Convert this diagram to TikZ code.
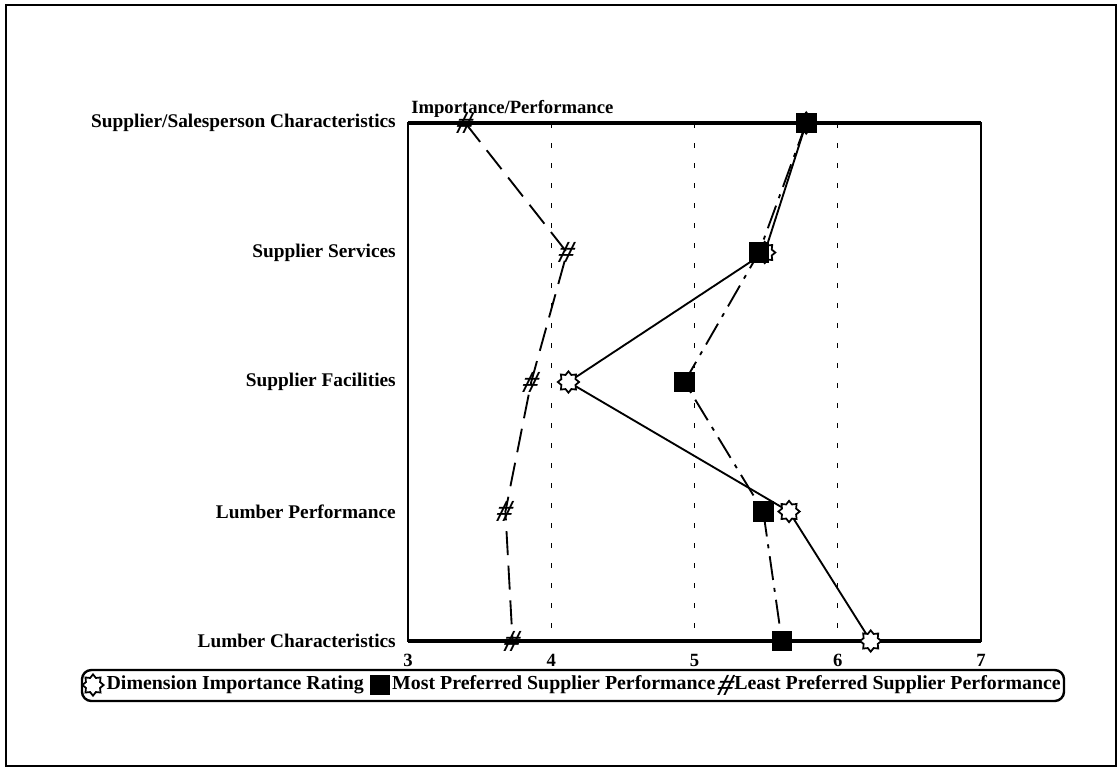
\documentclass[tikz,border=0pt]{standalone}
\usepackage{fontspec}
\setmainfont{Liberation Serif}
\usetikzlibrary{positioning,shapes.geometric}

\begin{document}
\begin{tikzpicture}[x=0.75pt,y=-0.75pt,
  rowlabel/.style={anchor=east,inner sep=0pt,font=\bfseries\fontsize{14.5}{16}\selectfont},
  ticklabel/.style={inner sep=0pt,font=\bfseries\fontsize{14}{16}\selectfont},
  legendtext/.style={inner sep=0pt,font=\bfseries\fontsize{14.9}{16}\selectfont},
  gridline/.style={line width=1.1pt,dash pattern=on 3.75pt off 11.25pt},
  impline/.style={line width=1.4pt},
  mostline/.style={line width=1.4pt,dash pattern=on 18pt off 6pt on 3pt off 6pt},
  leastline/.style={line width=1.4pt,dash pattern=on 18pt off 8pt},
  impmark/.style={star,star points=8,star point ratio=1.4,draw,fill=white,line width=1.3pt,minimum size=16pt,inner sep=0pt},
  mostmark/.style={rectangle,fill=black,minimum size=15.5pt,inner sep=0pt},
  leastmark/.style={inner sep=0pt,xslant=0.3,font=\bfseries\fontsize{23}{23}\selectfont},
]
\useasboundingbox (0,0) rectangle (1118,769);
\draw[line width=1.8pt] (6,5) rectangle (1116,766);

% plot frame and grid
\foreach \v in {4,5,6}
  \draw[gridline] ({408+(\v-3)*143.25},123) -- ({408+(\v-3)*143.25},641);
\draw[line width=1.6pt] (408,123) rectangle (981,641);
\draw[line width=2.4pt] (408,123) -- (981,123);
\draw[line width=2.4pt] (408,641) -- (981,641);
\foreach \v in {3,...,7}
  \node[ticklabel] (tick-\v) at ({408+(\v-3)*143.25},660) {\v};
\node[ticklabel,anchor=base west] (axis-title) at (411,113) {Importance/Performance};

% data: name/row/label/importance/most/least
\foreach \name/\row/\lab/\imp/\most/\least in {
    ssc/0/Supplier\slash Salesperson Characteristics/5.78/5.78/3.40,
    ss/1/Supplier Services/5.49/5.45/4.11,
    sf/2/Supplier Facilities/4.12/4.93/3.86,
    lp/3/Lumber Performance/5.66/5.48/3.68,
    lc/4/Lumber Characteristics/6.23/5.61/3.73}{
  \node[rowlabel] (row-\name) at (396,{123+\row*129.5}) {\lab};
  \coordinate (imp-\name) at ({408+(\imp-3)*143.25},{123+\row*129.5});
  \coordinate (most-\name) at ({408+(\most-3)*143.25},{123+\row*129.5});
  \coordinate (least-\name) at ({408+(\least-3)*143.25},{123+\row*129.5});
}

\draw[leastline] (least-ssc) -- (least-ss) -- (least-sf) -- (least-lp) -- (least-lc);
\draw[mostline] (most-ssc) -- (most-ss) -- (most-sf) -- (most-lp) -- (most-lc);
\draw[impline] (imp-ssc) -- (imp-ss) -- (imp-sf) -- (imp-lp) -- (imp-lc);

\foreach \name in {ssc,ss,sf,lp,lc}{
  \node[leastmark] at (least-\name) {\#};
  \node[impmark] at (imp-\name) {};
  \node[mostmark] at (most-\name) {};
}

% legend
\draw[line width=1.8pt,rounded corners=7pt] (82,670) rectangle (1064,701);
\node[impmark] (leg-imp) at (93,685) {};
\node[legendtext,right=1pt of leg-imp] (leg-imptext) {Dimension Importance Rating};
\node[mostmark,right=4pt of leg-imptext] (leg-most) {};
\node[legendtext,right=1pt of leg-most] (leg-mosttext) {Most Preferred Supplier Performance};
\node[leastmark,right=2pt of leg-mosttext] (leg-least) {\#};
\node[legendtext,right=0pt of leg-least] (leg-leasttext) {Least Preferred Supplier Performance};
\end{tikzpicture}
\end{document}
